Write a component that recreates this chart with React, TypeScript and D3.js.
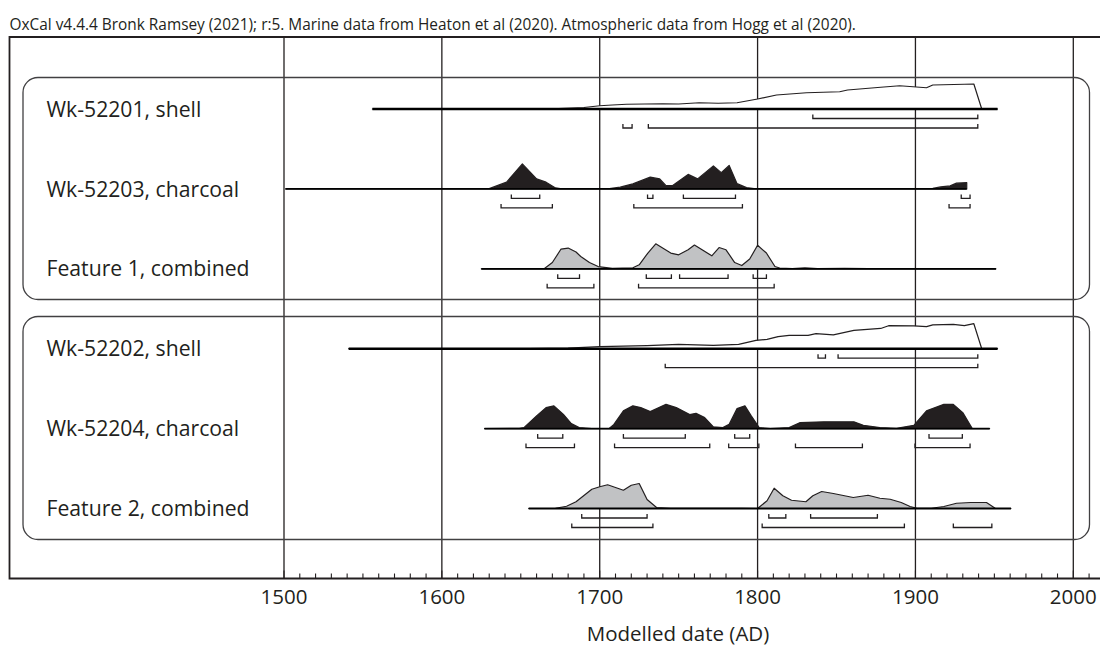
import React from "react";
import * as d3 from "d3";

// OxCal-style multi plot: rows of probability distributions with hpd range brackets

const title =
  "OxCal v4.4.4 Bronk Ramsey (2021); r:5. Marine data from Heaton et al (2020). Atmospheric data from Hogg et al (2020).";
const axisTitle = "Modelled date (AD)";
const majorTicks = [1500, 1600, 1700, 1800, 1900, 2000];

const rowNames = [
  "Wk-52201, shell",
  "Wk-52203, charcoal",
  "Feature 1, combined",
  "Wk-52202, shell",
  "Wk-52204, charcoal",
  "Feature 2, combined",
];
const rowKinds = ["shell", "charcoal", "combined", "shell", "charcoal", "combined"];
const rowExtents = [
  [1556, 1952],
  [1501, 1932.5],
  [1625, 1951],
  [1541, 1952],
  [1627, 1947],
  [1655, 1960.5],
];

// relative probability (% of row peak)
const dist52201 = [
  [1556, 0], [1650, 0], [1670, 1], [1690, 6], [1700, 13], [1708, 16], [1717, 19], [1740, 21],
  [1750, 20], [1763, 25], [1775, 23], [1787, 25], [1800, 40], [1812, 56], [1831, 65], [1852, 69],
  [1857, 76], [1878, 87], [1890, 93], [1907, 85], [1911, 96], [1931, 99], [1937, 100], [1942, 0],
  [1952, 0],
];
const dist52203 = [
  [1501, 0], [1620, 0], [1630, 1], [1641, 27], [1651, 100], [1660, 40], [1666, 27], [1672, 4],
  [1676, 0], [1705, 0], [1713, 7], [1721, 20], [1732, 47], [1738, 40], [1742, 13], [1746, 13],
  [1756, 58], [1762, 40], [1772, 92], [1777, 65], [1782, 94], [1787, 21], [1793, 5], [1799, 0],
  [1905, 0], [1911, 2], [1916, 8], [1922, 12], [1926, 23], [1932.5, 25], [1932.5, 0],
];
const distFeature1 = [
  [1625, 0], [1660, 0], [1665, 1], [1670, 25], [1675.5, 79], [1680, 83], [1685, 67], [1688, 49],
  [1693.5, 25], [1699, 9], [1708, 2], [1721, 4], [1725, 16], [1730.5, 63], [1735.5, 100],
  [1745, 63], [1750, 56], [1756, 76], [1760, 95], [1771, 52], [1775.6, 85], [1780, 76],
  [1785.5, 25], [1790, 13], [1795, 39], [1800, 94], [1805.6, 63], [1811, 9], [1814, 3],
  [1822, 1], [1830, 4], [1838, 1], [1855, 2], [1870, 1], [1900, 1], [1951, 0],
];
const dist52202 = [
  [1541, 0], [1655, 0], [1680, 2], [1700, 8], [1730, 12], [1750, 17], [1772, 13], [1788, 17],
  [1799, 33], [1806, 37], [1813, 48], [1820, 53], [1832, 53], [1837, 60], [1848, 55], [1861, 73],
  [1878, 81], [1883, 92], [1899, 91], [1907, 88], [1911, 95], [1924, 97], [1931, 92], [1937, 100],
  [1942, 0], [1952, 0],
];
const dist52204 = [
  [1627, 0], [1649, 1], [1652, 4], [1660, 51], [1666, 84], [1671, 91], [1677, 57], [1682, 20],
  [1687, 4], [1695, 0], [1706, 1], [1709, 17], [1715, 71], [1721, 91], [1726, 84], [1732, 68],
  [1742, 97], [1748.5, 84], [1757, 56], [1761, 61], [1766.5, 44], [1772, 7], [1778, 4], [1782, 17],
  [1787, 80], [1792, 91], [1796, 51], [1801, 4], [1808, 0], [1820, 4], [1827, 24], [1842, 27],
  [1861, 27], [1867, 13], [1877.5, 4], [1888, 1], [1899, 13], [1907, 71], [1918, 97], [1924, 97],
  [1930, 64], [1936, 0], [1947, 0],
];
const distFeature2 = [
  [1655, 0], [1672, 1], [1679, 9], [1685, 27], [1695, 77], [1700, 87], [1705, 95], [1715, 73],
  [1720, 93], [1725, 100], [1730, 36], [1736, 4], [1745, 1], [1790, 1], [1800, 0], [1806, 31],
  [1810.5, 81], [1816, 51], [1821.5, 33], [1830.6, 27], [1835, 51], [1840.6, 68], [1848, 60],
  [1860.6, 44], [1870, 53], [1877.5, 41], [1884, 37], [1891, 24], [1896.6, 8], [1901, 1],
  [1910, 1], [1918, 8], [1926, 21], [1935, 24], [1945, 24], [1950.5, 1], [1960.5, 0],
];
const rowDists = [dist52201, dist52203, distFeature1, dist52202, dist52204, distFeature2];

// 68.3% and 95.4% hpd ranges
const range68 = [
  [[1835, 1939.5]],
  [[1644, 1662], [1730.3, 1733.7], [1753, 1786], [1929, 1934.6]],
  [[1673.4, 1687.2], [1729.5, 1745.4], [1750.6, 1781.3], [1797.2, 1805.6]],
  [[1838.3, 1843], [1851, 1939.5]],
  [[1660.7, 1676.6], [1715, 1754.2], [1785.5, 1795], [1908.6, 1929.7]],
  [[1688.6, 1730], [1807.1, 1817.9], [1833.6, 1875.9]],
];
const range95 = [
  [[1714.7, 1720.5], [1730.8, 1939.5]],
  [[1637.5, 1670], [1721.6, 1790.4], [1921.3, 1934.6]],
  [[1666.7, 1696.3], [1724.6, 1810.5]],
  [[1741.5, 1939.5]],
  [[1653.3, 1684], [1709.4, 1769.7], [1781.7, 1800.8], [1824, 1866.4], [1899.7, 1934.6]],
  [[1682.3, 1733.7], [1802.9, 1893], [1924, 1948.4]],
];

const width = 1100;
const height = 646;
const font = "'Open Sans', 'Noto Sans', sans-serif";

const App = () => {
  const x = d3.scaleLinear().domain([1500, 2000]).range([284, 1073.3]);
  const row = d3.scaleLinear().domain([0, 5]).range([109, 508.5]);
  const h = d3.scaleLinear().domain([0, 100]).range([0, 25]);

  const frameLeft = 9.5;
  const frameTop = 37;
  const axisY = 578.5;
  const minorTicks = d3.range(1500, 2020, 10);

  const fills: Record<string, string> = { shell: "#fff", charcoal: "#231f20", combined: "#c1c2c4" };

  const bracket = (r: number[], y: number, key: string) => {
    const x0 = x(r[0]);
    const x1 = x(r[1]);
    return (
      <path
        key={key}
        d={`M${x0},${y - 4}V${y}H${x1}V${y - 4}`}
        fill="none"
        stroke="#231f20"
        strokeWidth={1.3}
      />
    );
  };

  return (
    <svg
      width={width}
      height={height}
      style={{ position: "absolute", left: 0, top: 0, background: "#fff" }}
    >
      <text x={frameLeft} y={30} fontFamily={font} fontSize={15.4} fill="#231f20">
        {title}
      </text>

      {/* frame */}
      <path
        d={`M${width + 5},${frameTop}H${frameLeft}V${axisY}H${width + 5}`}
        fill="none"
        stroke="#231f20"
        strokeWidth={1.8}
      />

      {/* gridlines */}
      {majorTicks.map((t) => (
        <line
          key={t}
          x1={x(t)}
          x2={x(t)}
          y1={frameTop}
          y2={axisY}
          stroke="#231f20"
          strokeWidth={1.3}
        />
      ))}

      {/* group boxes */}
      {[
        [77.5, 299.5],
        [316.5, 539.5],
      ].map(([y0, y1], i) => (
        <rect
          key={i}
          x={23}
          y={y0}
          width={1089.5 - 23}
          height={y1 - y0}
          rx={15}
          ry={15}
          fill="none"
          stroke="#414042"
          strokeWidth={1.3}
        />
      ))}

      {rowNames.map((name, i) => {
        const y0 = row(i);
        const area = d3
          .area<number[]>()
          .x((d) => x(d[0]))
          .y0(y0)
          .y1((d) => y0 - h(d[1]));
        const ext = rowExtents[i];
        return (
          <g key={name}>
            <text
              x={46.5}
              y={y0}
              dy="0.36em"
              fontFamily={font}
              fontSize={21.2}
              fill="#231f20"
            >
              {name}
            </text>
            <path
              d={area(rowDists[i]) || ""}
              fill={fills[rowKinds[i]]}
              stroke="#231f20"
              strokeWidth={1.2}
              strokeLinejoin="round"
            />
            <line
              x1={x(ext[0])}
              x2={x(ext[1])}
              y1={y0}
              y2={y0}
              stroke="#000"
              strokeWidth={rowKinds[i] === "shell" ? 2.4 : 1.8}
            />
            {range68[i].map((r, j) => bracket(r, y0 + 9.5, `a${j}`))}
            {range95[i].map((r, j) => bracket(r, y0 + 19, `b${j}`))}
          </g>
        );
      })}

      {/* axis */}
      {minorTicks.map((t) => (
        <line
          key={t}
          x1={x(t)}
          x2={x(t)}
          y1={axisY - (t % 100 === 0 ? 8 : 5)}
          y2={axisY}
          stroke="#231f20"
          strokeWidth={1.1}
        />
      ))}
      {majorTicks.map((t) => (
        <text
          key={t}
          x={x(t)}
          y={604}
          textAnchor="middle"
          fontFamily={font}
          fontSize={20.5}
          fill="#231f20"
        >
          {t}
        </text>
      ))}
      <text
        x={678}
        y={641}
        textAnchor="middle"
        fontFamily={font}
        fontSize={20.5}
        fill="#231f20"
      >
        {axisTitle}
      </text>
    </svg>
  );
};

export default App;
